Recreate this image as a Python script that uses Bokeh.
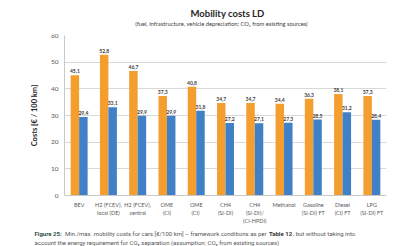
from bokeh.plotting import figure
from bokeh.layouts import column
from bokeh.models import ColumnDataSource, FactorRange, Range1d, FixedTicker, Label
from bokeh.transform import dodge
from bokeh.core.properties import value
from bokeh.embed import file_html
from bokeh.resources import INLINE

categories = ["BEV", "H2 (FCEV),\nlocal (DE)", "H2 (FCEV),\ncentral", "OME\n(CI)", "OME\n(CI) ",
              "CH4\n(SI-DI)", "CH4\n(SI-DI)/\n(CI-HPDI)", "Methanol", "Gasoline\n(SI-DI) FT",
              "Diesel\n(CI) FT", "LPG\n(SI-DI) FT"]
max_costs = [45.1, 52.8, 46.7, 37.3, 40.8, 34.7, 34.7, 34.4, 36.3, 38.1, 37.3]
min_costs = [29.4, 33.1, 29.9, 29.9, 31.8, 27.2, 27.1, 27.3, 28.5, 31.2, 28.4]
y_ticks = [0, 10, 20, 30, 40, 50, 60]

fmt = lambda v: f"{v:.1f}".replace(".", ",")
src = ColumnDataSource(dict(cat=categories, mx=max_costs, mn=min_costs,
                            mx_t=[fmt(v) for v in max_costs], mn_t=[fmt(v) for v in min_costs]))

W = 398
TOP_H = 30
CAP_TOP = 228


def no_align(f):
    if "frame_align" in f.properties():
        f.frame_align = False
    return f


def text_panel(y0, y1):
    f = figure(width=W, height=y1 - y0, x_range=Range1d(0, W), y_range=Range1d(y1, y0),
               output_backend="svg", toolbar_location=None, x_axis_location=None,
               y_axis_location=None, min_border=0)
    f.min_border_left = f.min_border_right = f.min_border_top = f.min_border_bottom = 0
    f.outline_line_color = None
    f.grid.visible = False
    f.background_fill_color = "white"
    f.border_fill_color = "white"
    return no_align(f)


# title panel
top = text_panel(0, TOP_H)
top.add_layout(Label(x=227, y=13, text="Mobility costs LD", text_font="Lato", text_font_size="9.5px",
                     text_font_style="bold", text_color="#262626", text_align="center",
                     text_baseline="middle"))
top.add_layout(Label(x=221, y=23,
                     text="(fuel, infrastructure, vehicle depreciation; CO\u2082 from existing sources)",
                     text_font="Lato", text_font_size="5.8px", text_color="#404040",
                     text_align="center", text_baseline="middle"))

# main chart
p = figure(x_range=FactorRange(*categories), y_range=Range1d(0, 60),
           frame_width=322, frame_height=160, output_backend="svg", toolbar_location=None,
           min_border_left=64, min_border_right=12, min_border_top=35 - TOP_H,
           min_border_bottom=CAP_TOP - 195)
no_align(p)
p.outline_line_color = None
p.background_fill_color = "white"
p.border_fill_color = "white"

ORANGE = "#F59E30"
BLUE = "#3F80C6"
p.vbar(x=dodge("cat", -0.145, range=p.x_range), top="mx", width=0.29, source=src,
       fill_color=ORANGE, line_color=None)
p.vbar(x=dodge("cat", 0.145, range=p.x_range), top="mn", width=0.29, source=src,
       fill_color=BLUE, line_color=None)

lbl_kw = dict(text_font=value("Lato"), text_font_size="5px", text_font_style="bold",
              text_color="#404040", text_align="center", text_baseline="bottom", y_offset=-2)
p.text(x=dodge("cat", -0.145, range=p.x_range), y="mx", text="mx_t", source=src, **lbl_kw)
p.text(x=dodge("cat", 0.145, range=p.x_range), y="mn", text="mn_t", source=src, **lbl_kw)

p.ygrid.grid_line_color = "#D9D9D9"
p.xgrid.grid_line_color = None
p.yaxis.ticker = FixedTicker(ticks=y_ticks)
p.yaxis.axis_line_color = "#C8C8C8"
p.yaxis.major_tick_line_color = None
p.yaxis.major_tick_out = 0
p.yaxis.minor_tick_line_color = None
p.yaxis.minor_tick_out = 0
p.yaxis.major_label_text_font = "Lato"
p.yaxis.major_label_text_font_size = "6.5px"
p.yaxis.major_label_text_color = "#595959"
p.yaxis.major_label_standoff = 6
p.yaxis.axis_label = "Costs [€ / 100 km]"
p.yaxis.axis_label_text_font = "Lato"
p.yaxis.axis_label_text_font_size = "7.5px"
p.yaxis.axis_label_text_font_style = "bold"
p.yaxis.axis_label_text_color = "#262626"
p.yaxis.axis_label_standoff = 9

p.xaxis.axis_line_color = "#C8C8C8"
p.xaxis.major_tick_line_color = None
p.xaxis.major_tick_out = 0
p.xaxis.minor_tick_line_color = None
p.xaxis.minor_tick_out = 0
p.xaxis.major_label_text_font = "Lato"
p.xaxis.major_label_text_font_size = "5.5px"
p.xaxis.major_label_text_color = "#595959"
p.xaxis.major_label_standoff = 6
p.xaxis.major_label_text_line_height = 1.4

# caption panel
cap = text_panel(CAP_TOP, 246)
cap_kw = dict(text_font="Roboto", text_font_size="6px",
              text_baseline="alphabetic", text_align="left")
cap.add_layout(Label(x=34, y=233, text="Figure 25:", text_font_style="bold",
                     text_color="#2F4F46", **cap_kw))
cap.add_layout(Label(x=64.5, y=233,
                     text="Min./max. mobility costs for cars [€/100 km] \u2013 framework conditions as per",
                     text_color="#555555", **cap_kw))
cap.add_layout(Label(x=268.5, y=233, text="Table 12", text_font_style="bold",
                     text_color="#333333", **cap_kw))
cap.add_layout(Label(x=292.5, y=233, text=", but without taking into",
                     text_color="#555555", **cap_kw))
cap.add_layout(Label(x=34, y=241.5,
                     text="account the energy requirement for CO\u2082 separation (assumption: CO\u2082 from existing sources)",
                     text_color="#555555", **cap_kw))

layout = column(top, p, cap, spacing=0)
open("out.html", "w").write(file_html(layout, INLINE))
